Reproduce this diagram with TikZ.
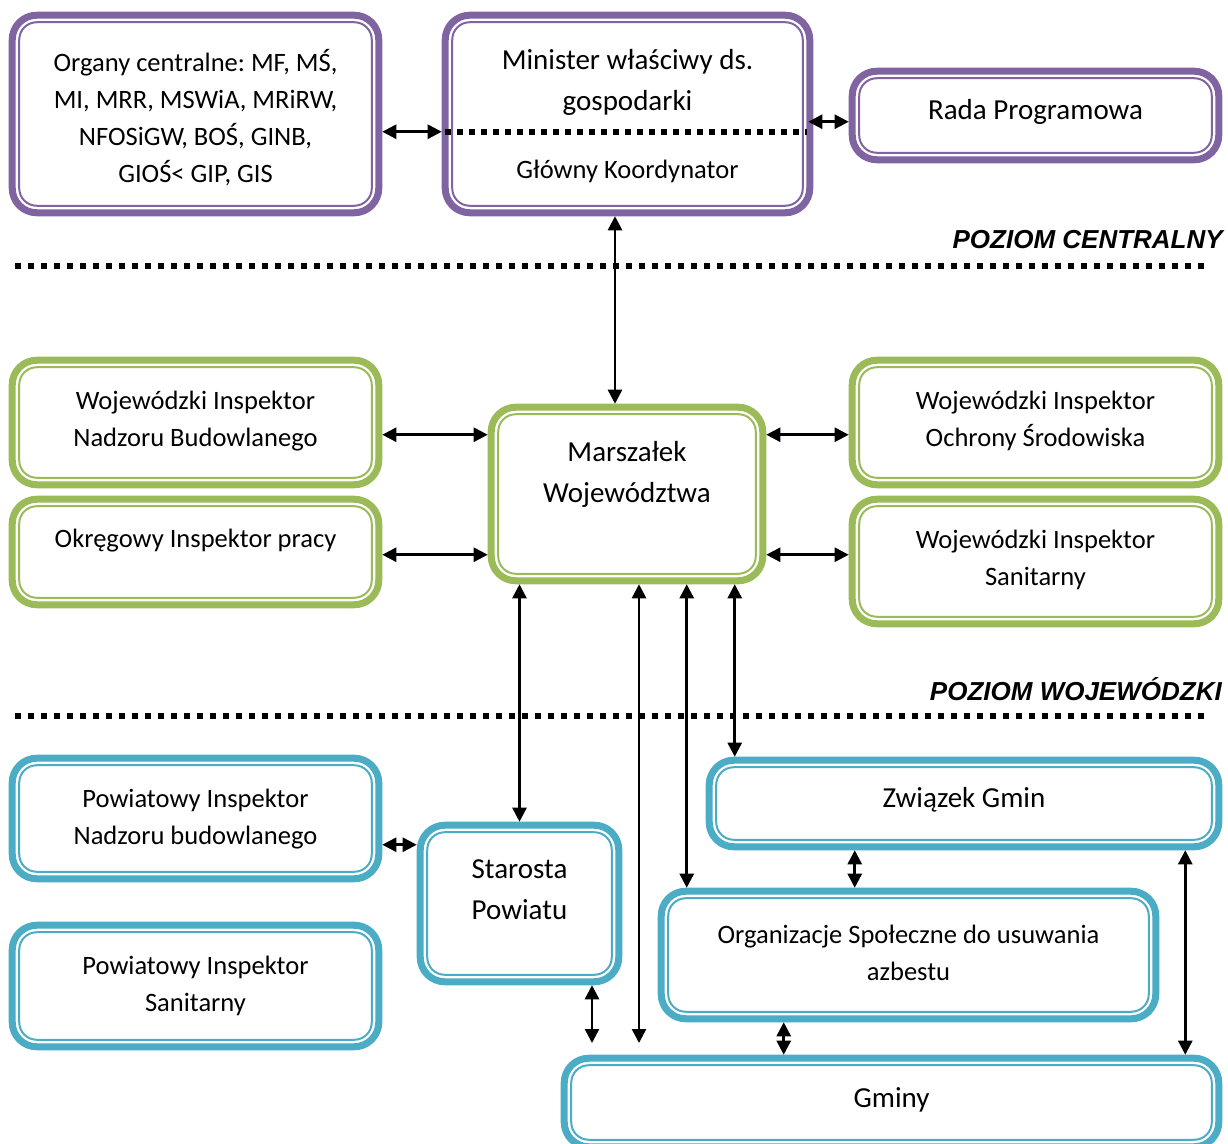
\documentclass[tikz,border=0pt]{standalone}
\usepackage{fontspec}
\setmainfont{Carlito}
\newfontfamily\arialfont{Liberation Sans}
\usetikzlibrary{arrows.meta,fit,calc}
\definecolor{cpurple}{HTML}{8064A2}
\definecolor{cgreen}{HTML}{9BBB59}
\definecolor{cblue}{HTML}{4BACC6}
\frenchspacing
\tikzset{
  conn/.style={line width=1.9pt, {Triangle[length=10.5pt,width=10.5pt]}-{Triangle[length=10.5pt,width=10.5pt]}},
  bandline/.style={line width=5.25pt, rounded corners=18.4pt},
  innerline/.style={line width=1.5pt, rounded corners=13.1pt},
  txt/.style={align=center, inner sep=0pt, font=\fontsize{19.9}{27.75}\selectfont},
  bigtxt/.style={align=center, inner sep=0pt, font=\fontsize{21.75}{30.75}\selectfont},
  levdots/.style={line width=4.5pt, dash pattern=on 4.5pt off 5.25pt},
  mindots/.style={line width=4.5pt, dash pattern=on 4.5pt off 4.5pt},
  leveltxt/.style={font=\arialfont\bfseries\itshape\fontsize{19.5}{23}\selectfont, anchor=base east, inner sep=0pt},
}
\newcommand\orgbox[6]{%
  \node[fit={(#2,#3) (#4,#5)}, inner sep=0pt] (#1) {};
  \draw[bandline, draw=#6] ([shift={(3.5,3.5)}]#1.north west) rectangle ([shift={(-3.5,-3.5)}]#1.south east);
  \draw[innerline, draw=#6] ([shift={(10.5,10.5)}]#1.north west) rectangle ([shift={(-10.5,-10.5)}]#1.south east);
}
\begin{document}
\begin{tikzpicture}[x=0.75pt,y=-0.75pt]
\useasboundingbox (0,0) rectangle (1228,1144);
\clip (0,0) rectangle (1228,1144);
\fill[white] (0,0) rectangle (1228,1144);

% central level
\orgbox{org}{9}{12}{382}{216}{cpurple}
\orgbox{min}{442}{12}{813}{216}{cpurple}
\orgbox{rada}{849}{68}{1222}{163}{cpurple}
\node[txt] (orgt) at (195.5,118) {Organy centralne: MF, MŚ,\\MI, MRR, MSWiA, MRiRW,\\NFOSiGW, BOŚ, GINB,\\GIOŚ< GIP, GIS};
\node[bigtxt] (mint) at (627.5,82) {Minister właściwy ds.\\gospodarki};
\node[txt] (gkt) at (627.5,171) {Główny Koordynator};
\node[bigtxt] (radat) at (1035.5,112) {Rada Programowa};
\coordinate (md1) at ($(min.north west)+(3,120)$);
\coordinate (md2) at ($(min.north east)+(-6,120)$);
\draw[mindots] (md1) -- (md2);

\coordinate (lv1a) at (15,266);
\coordinate (lv1b) at (1210,266);
\draw[levdots] (lv1a) -- (lv1b);
\node[leveltxt] (lev1) at (1223,249) {POZIOM CENTRALNY};

% voivodeship level
\orgbox{winb}{9}{357}{382}{488}{cgreen}
\orgbox{oip}{9}{496}{382}{608}{cgreen}
\orgbox{mar}{488}{404}{766}{584}{cgreen}
\orgbox{wios}{849}{357}{1222}{488}{cgreen}
\orgbox{wis}{849}{496}{1222}{627}{cgreen}
\node[txt] (winbt) at (195.5,421) {Wojewódzki Inspektor\\Nadzoru Budowlanego};
\node[txt] (oipt) at (195.5,541) {Okręgowy Inspektor pracy};
\node[bigtxt] (mart) at (627,474) {Marszałek\\Województwa};
\node[txt] (wiost) at (1035.5,421) {Wojewódzki Inspektor\\Ochrony Środowiska};
\node[txt] (wist) at (1035.5,560) {Wojewódzki Inspektor\\Sanitarny};

\coordinate (lv2a) at (15,716);
\coordinate (lv2b) at (1210,716);
\draw[levdots] (lv2a) -- (lv2b);
\node[leveltxt] (lev2) at (1222,700) {POZIOM WOJEWÓDZKI};

% district / commune level
\orgbox{pinb}{9}{755}{382}{882}{cblue}
\orgbox{pis}{9}{922}{382}{1050}{cblue}
\orgbox{star}{417}{822}{622}{985}{cblue}
\orgbox{zw}{706}{757}{1222}{850}{cblue}
\orgbox{orgs}{658}{888}{1159}{1022}{cblue}
\orgbox{gm}{561}{1055}{1222}{1150}{cblue}
\node[txt] (pinbt) at (195.5,819) {Powiatowy Inspektor\\Nadzoru budowlanego};
\node[txt] (pist) at (195.5,986) {Powiatowy Inspektor\\Sanitarny};
\node[bigtxt] (start) at (519.5,890) {Starosta\\Powiatu};
\node[bigtxt] (zwt) at (964,800) {Związek Gmin};
\node[txt] (orgst) at (908.5,953) {Organizacje Społeczne do usuwania\\azbestu};
\node[bigtxt] (gmt) at (891.5,1100) {Gminy};

% connectors
\draw[conn] ($(org.north east)+(0,120)$) -- ($(min.north west)+(0,120)$);
\draw[conn] ($(min.north east)+(-5,110)$) -- ($(rada.north west)+(0,54)$);
\coordinate (c1) at ($(mar.north)+(-12,0)$);
\draw[conn] (min.south -| c1) -- (c1);
\draw[conn] ($(winb.north east)+(0,78)$) -- ($(mar.north west)+(0,31)$);
\draw[conn] ($(oip.north east)+(0,59)$) -- ($(mar.north west)+(0,151)$);
\draw[conn] ($(mar.north east)+(0,31)$) -- ($(wios.north west)+(0,78)$);
\draw[conn] ($(mar.north east)+(0,151)$) -- ($(wis.north west)+(0,59)$);
\draw[conn] (mar.south -| star.north) -- (star.north);
\coordinate (g2) at (639,1043);
\draw[conn] (mar.south -| g2) -- (g2);
\coordinate (c3) at ($(orgs.north west)+(29,0)$);
\draw[conn] (mar.south -| c3) -- (c3);
\coordinate (c4) at ($(zw.north west)+(29,0)$);
\draw[conn] (mar.south -| c4) -- (c4);
\draw[conn] ($(pinb.north east)+(0,90)$) -- ($(star.north west)+(0,23)$);
\coordinate (g1) at (592,1043);
\draw[conn] (star.south -| g1) -- (g1);
\coordinate (a1) at ($(zw.south west)+(149,0)$);
\draw[conn] (a1) -- (a1 |- orgs.north);
\coordinate (a2) at ($(orgs.south west)+(126,0)$);
\draw[conn] (a2) -- (a2 |- gm.north);
\coordinate (a3) at ($(zw.south east)+(-37,0)$);
\draw[conn] (a3) -- (a3 |- gm.north);
\end{tikzpicture}
\end{document}
